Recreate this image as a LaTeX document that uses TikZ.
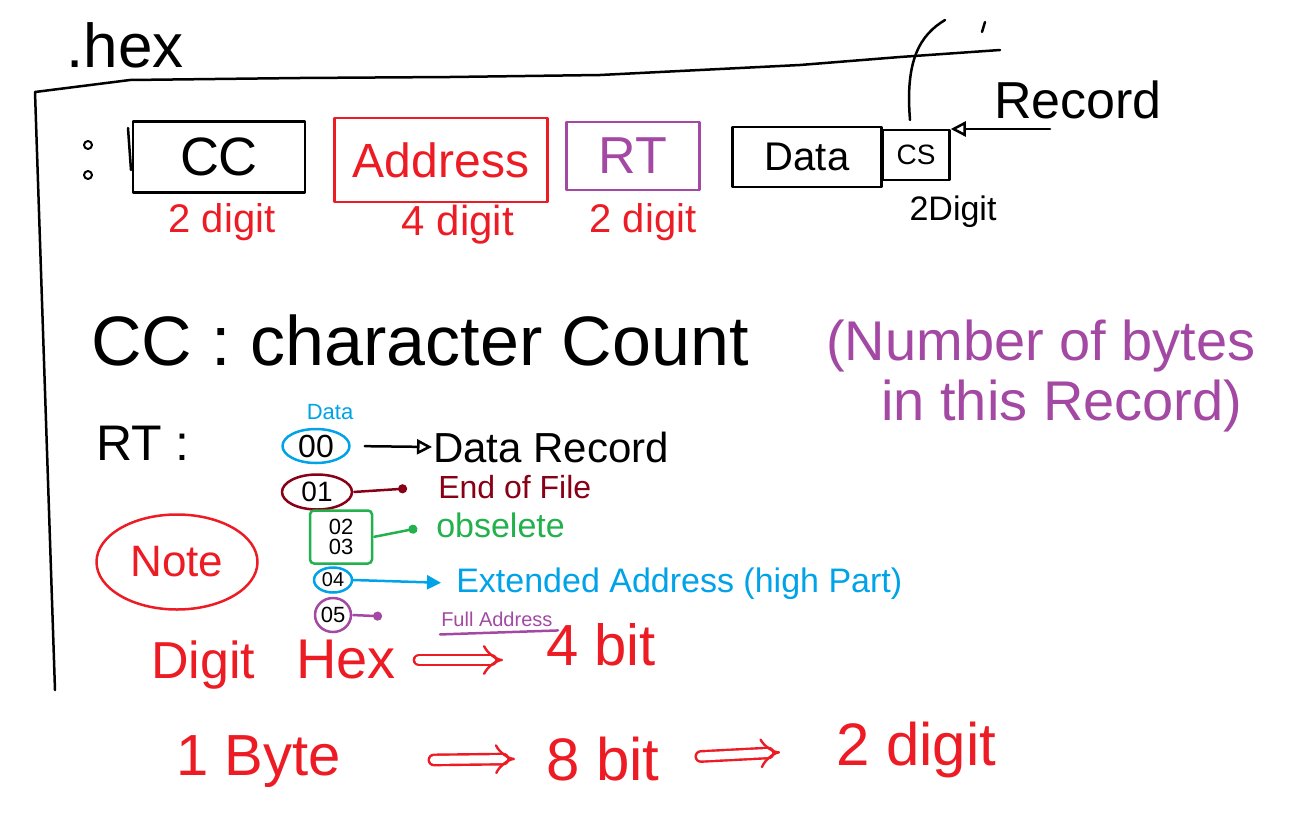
\documentclass[tikz,border=0pt]{standalone}
\usepackage{fontspec}
\setmainfont{Liberation Sans}
\usetikzlibrary{arrows.meta,shapes.geometric}
\definecolor{pred}{RGB}{237,28,36}
\definecolor{ppur}{RGB}{163,73,164}
\definecolor{pblue}{RGB}{0,162,232}
\definecolor{pdred}{RGB}{136,0,21}
\definecolor{pgreen}{RGB}{34,177,76}
\newcommand{\fs}[1]{\fontsize{#1}{#1}\selectfont}
\begin{document}
\begin{tikzpicture}[x=1pt,y=-1pt,line width=2.5pt,line cap=round,line join=round,
  txt/.style={inner sep=0pt,font=\fs{#1}},
  fieldbox/.style={draw=#1,text=#1,inner sep=0pt},
  oval/.style={draw=#1,ellipse,inner sep=0pt,text=black},
  dotarrow/.style={draw=#1,-{Circle[length=9pt]},shorten <=1pt},
  openarrow/.style={draw=#1,-{Triangle[open,length=15pt,width=15pt]}},
  implies/.style={draw=pred,double,double distance=8pt,line width=2.4pt,-{Implies}}]
\useasboundingbox (0,0) rectangle (1305,816);
% sheet outline
\draw (55,690) -- (35,92) -- (130,80) -- (300,78) -- (450,77) -- (600,75)
  -- (700,70) -- (800,65) -- (900,57) -- (1000,50);
\draw (910,120) .. controls (905,60) and (920,35) .. (945,20);
\draw (985,22) -- (982,32);
\node[txt=62] (hex) at (125,45) {.hex};
% colon and tick
\draw[line width=2pt] (88,145) circle (4);
\draw[line width=2pt] (88,175) circle (4);
\draw (128,128) -- (131,170);
% record fields
\node[fieldbox=black,minimum width=172,minimum height=71,font=\fs{54}] (cc) at (219,157) {CC};
\node[fieldbox=pred,minimum width=213,minimum height=84,font=\fs{48}] (addr) at (441,160) {Address};
\node[fieldbox=ppur,minimum width=133,minimum height=68,font=\fs{52}] (rt) at (633,156) {RT};
\node[fieldbox=black,minimum width=149,minimum height=60,font=\fs{40}] (data) at (807,157) {Data};
\node[fieldbox=black,minimum width=67,minimum height=50,font=\fs{28}] (cs) at (916,155) {CS};
\node[txt=52] (record) at (1078,100) {Record};
\coordinate (recarr) at (1050,129);
\draw[openarrow=black] (recarr) -- (recarr -| cs.east);
\node[txt=40,text=pred] (d1) at (222,222) {2 digit};
\node[txt=42,text=pred] (d2) at (458,225) {4 digit};
\node[txt=40,text=pred] (d3) at (643,222) {2 digit};
\node[txt=34] (d4) at (953,212) {2Digit};
% CC description
\node[txt=70,anchor=base west] (ccdef) at (90,365) {CC : character Count};
\node[txt=56,text=ppur,anchor=base west] (nb1) at (825,360) {(Number of bytes};
\node[txt=56,text=ppur,anchor=base west] (nb2) at (880,420) {in this Record)};
% RT description
\node[txt=50,anchor=base west] (rtlab) at (95,460) {RT :};
\node[txt=22,text=pblue] (datasmall) at (330,412) {Data};
\node[oval=pblue,minimum width=67,minimum height=34,font=\fs{32}] (e00) at (316,446) {00};
\node[oval=pdred,minimum width=70,minimum height=35,font=\fs{28}] (e01) at (317,492) {01};
\node[draw=pgreen,rounded corners=4pt,minimum width=62,minimum height=53,inner sep=0pt,
  align=center,font=\fs{22}] (g23) at (341,537) {02\\[-2pt]03};
\node[oval=pblue,minimum width=38,minimum height=25,font=\fs{20}] (e04) at (333,580) {04};
\node[oval=ppur,minimum width=36,minimum height=34,font=\fs{22}] (e05) at (333,615) {05};
\node[txt=42,anchor=base west] (datarec) at (432,462) {Data Record};
\node[txt=32,text=pdred,anchor=base west] (eof) at (437,498) {End of File};
\node[txt=34,text=pgreen,anchor=base west] (obs) at (435,537) {obselete};
\node[txt=34,text=pblue,anchor=base west] (ext) at (455,592) {Extended Address (high Part)};
\node[txt=20,text=ppur,anchor=base west] (full) at (440,626) {Full Address};
\draw[ppur] (full.south west) ++(0,7) -- ++(118,-4);
\draw[openarrow=black,shorten <=14pt] (e00.east) -- (datarec.west);
\draw[dotarrow=pdred,shorten >=30pt] (e01.east) -- (eof.west);
\draw[dotarrow=pgreen,shorten >=18pt] (g23.east) -- (obs.west);
\draw[draw=pblue,-{Triangle[length=14pt,width=14pt]},shorten >=14pt] (e04.east) -- (ext.west);
\draw[dotarrow=ppur,shorten >=58pt] (e05.east) -- (full.west);
% note
\node[draw=pred,ellipse,minimum width=161,minimum height=95,inner sep=0pt,text=pred,font=\fs{44}] (note) at (177,562) {Note};
% digit hex
\node[txt=52,text=pred,anchor=base west] (digit) at (150,678) {Digit};
\node[txt=56,text=pred,anchor=base west] (hexw) at (295,678) {Hex};
\node[txt=58,text=pred,anchor=base west] (fourbit) at (545,665) {4 bit};
\coordinate (ha) at ([yshift=18pt]hexw.base east);
\draw[implies,shorten <=22pt,shorten >=42pt] (ha) -- (ha -| fourbit.west);
% bottom line
\node[txt=58,text=pred,anchor=base west] (byte) at (175,775) {1 Byte};
\node[txt=60,text=pred,anchor=base west] (eightbit) at (545,780) {8 bit};
\node[txt=60,text=pred,anchor=base west] (twodigit) at (835,765) {2 digit};
\draw[implies,shorten <=92pt,shorten >=30pt] (byte.east) -- (eightbit.west);
\draw[implies,shorten <=40pt,shorten >=55pt] (eightbit.east) -- (twodigit.west);
\end{tikzpicture}
\end{document}
